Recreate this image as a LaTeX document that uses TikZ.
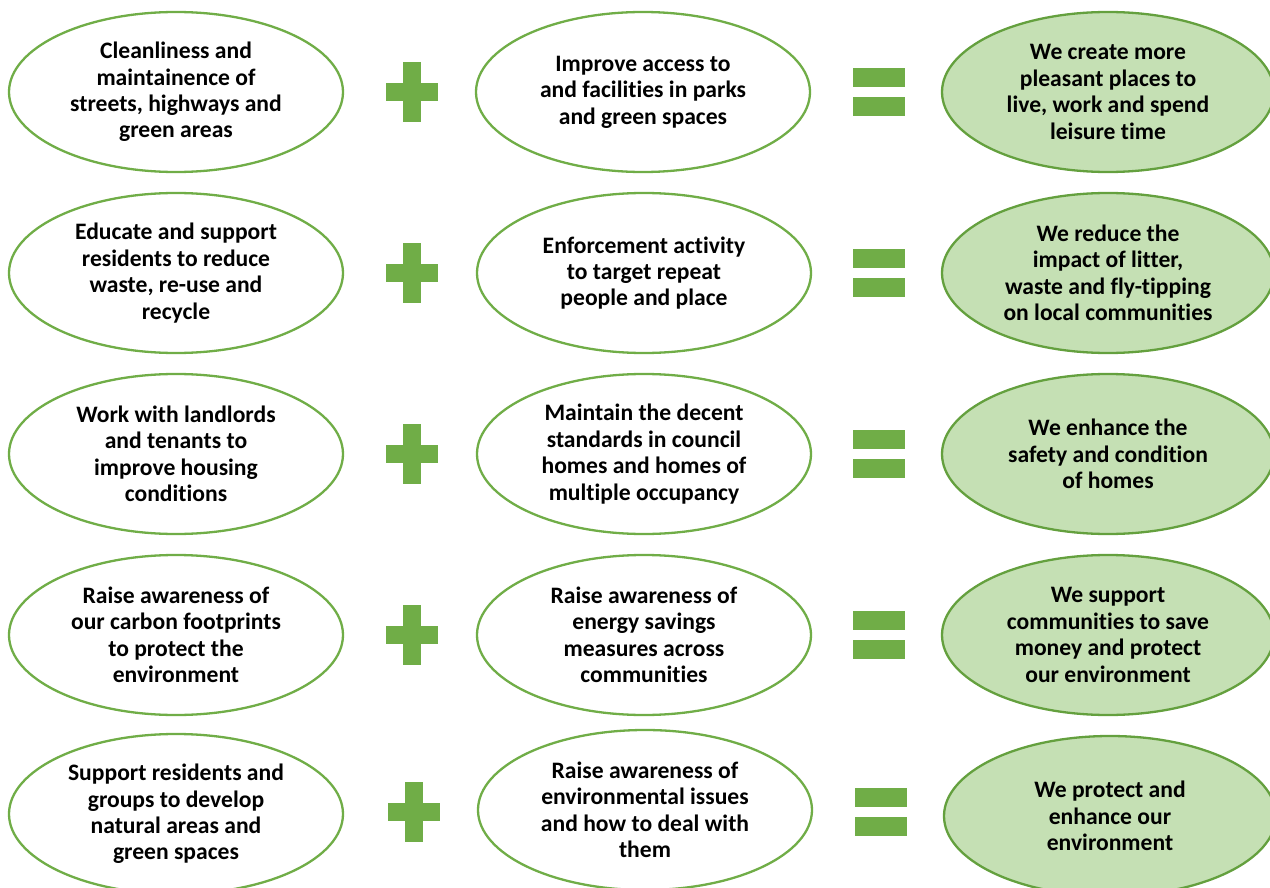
\documentclass[tikz,border=0pt]{standalone}
\usepackage{fontspec}
\setmainfont{Carlito}[Ligatures=NoCommon]
\usetikzlibrary{shapes.geometric}
\definecolor{leaf}{HTML}{70AD47}
\definecolor{leafdark}{HTML}{64A03E}
\definecolor{mint}{HTML}{C5E0B4}
\begin{document}
\begin{tikzpicture}[x=1pt,y=-1pt,
  bubble/.style={ellipse,draw=leaf,line width=2.3pt,fill=white,
    minimum width=334pt,minimum height=160pt,inner sep=0pt,align=center,
    font=\fontsize{23.6pt}{26.4pt}\selectfont\bfseries},
  outcome/.style={bubble,draw=leafdark,fill=mint,minimum width=332pt},
  bar/.style={fill=leaf},
  pics/plussign/.style={code={
    \fill[bar] (-26,-9) rectangle (26,9);
    \fill[bar] (-9,-30) rectangle (9,30);}},
  pics/equalsign/.style={code={
    \fill[bar] (-26,-24) rectangle (26,-5);
    \fill[bar] (-26,5) rectangle (26,24);}}]
\useasboundingbox (0,0) rectangle (1270,888);
\clip (0,0) rectangle (1270,888);

% row 1
\node[bubble]  (a1) at (176,92)  {Cleanliness and\\maintainence of\\streets, highways and\\green areas};
\pic (p1) at (412,92) {plussign};
\node[bubble]  (b1) at (643,92)  {Improve access to\\and facilities in parks\\and green spaces};
\pic (e1) at (879,92) {equalsign};
\node[outcome] (c1) at (1108,92) {We create more\\pleasant places to\\live, work and spend\\leisure time};

% row 2
\node[bubble]  (a2) at (176,273) {Educate and support\\residents to reduce\\waste, re-use and\\recycle};
\pic (p2) at (412,273) {plussign};
\node[bubble]  (b2) at (644,273) {Enforcement activity\\to target repeat\\people and place};
\pic (e2) at (879,273) {equalsign};
\node[outcome] (c2) at (1108,273) {We reduce the\\impact of litter,\\waste and fly-tipping\\on local communities};

% row 3
\node[bubble]  (a3) at (176,454) {Work with landlords\\and tenants to\\improve housing\\conditions};
\pic (p3) at (412,454) {plussign};
\node[bubble]  (b3) at (644,454) {Maintain the decent\\standards in council\\homes and homes of\\multiple occupancy};
\pic (e3) at (879,454) {equalsign};
\node[outcome] (c3) at (1108,454) {We enhance the\\safety and condition\\of homes};

% row 4
\node[bubble]  (a4) at (176,635) {Raise awareness of\\our carbon footprints\\to protect the\\environment};
\pic (p4) at (412,635) {plussign};
\node[bubble]  (b4) at (644,635) {Raise awareness of\\energy savings\\measures across\\communities};
\pic (e4) at (879,635) {equalsign};
\node[outcome] (c4) at (1108,635) {We support\\communities to save\\money and protect\\our environment};

% row 5
\node[bubble]  (a5) at (176,814) {Support residents and\\groups to develop\\natural areas and\\green spaces};
\pic (p5) at (414,812) {plussign};
\node[bubble]  (b5) at (645,810) {Raise awareness of\\environmental issues\\and how to deal with\\them};
\pic (e5) at (881,812) {equalsign};
\node[outcome] (c5) at (1110,816) {We protect and\\enhance our\\environment};
\end{tikzpicture}
\end{document}
